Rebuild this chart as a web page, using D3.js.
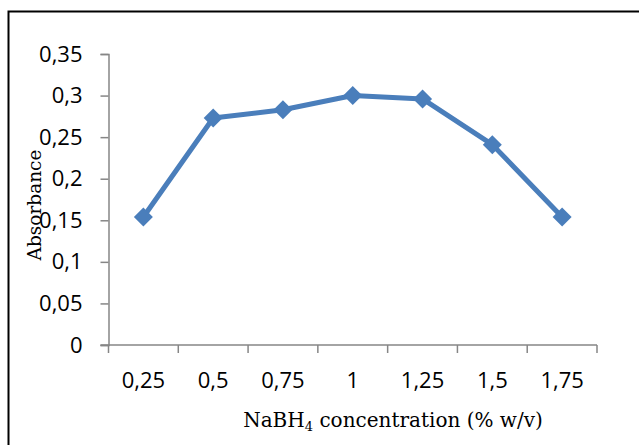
<!DOCTYPE html>
<html>
<head>
<meta charset="utf-8">
<script src="https://cdn.jsdelivr.net/npm/d3@7"></script>
<style>
  body { margin: 0; background: #fff; }
</style>
</head>
<body>
<div id="chart"></div>
<script>
const categories = ['0,25', '0,5', '0,75', '1', '1,25', '1,5', '1,75'];
const absorbance = [0.154, 0.273, 0.283, 0.300, 0.296, 0.241, 0.154];
const yTicks = [0, 0.05, 0.1, 0.15, 0.2, 0.25, 0.3, 0.35];

const width = 639;
const height = 445;
const plot = { left: 108.5, right: 597, top: 54, bottom: 345 };
const blue = '#4a7ebb';
const axisColor = '#868686';

const svg = d3.select('#chart')
  .append('svg')
  .attr('width', width)
  .attr('height', height);

// frame of the chart area (left and top edges only are visible)
svg.append('path')
  .attr('d', `M8.5,${height} V11.5 H${width}`)
  .attr('fill', 'none')
  .attr('stroke', '#000')
  .attr('stroke-width', 2);

const x = d3.scaleBand()
  .domain(categories)
  .range([plot.left, plot.right])
  .padding(0);

const y = d3.scaleLinear()
  .domain([0, 0.35])
  .range([plot.bottom, plot.top]);

// y axis
const yAxis = svg.append('g')
  .attr('transform', `translate(${plot.left}, 0)`)
  .call(d3.axisLeft(y)
    .tickValues(yTicks)
    .tickSize(8)
    .tickPadding(18)
    .tickFormat(d => String(d).replace('.', ',')));
yAxis.select('.domain').attr('stroke', axisColor).attr('stroke-width', 1.5);
yAxis.selectAll('.tick line').attr('stroke', axisColor).attr('stroke-width', 1.5);
yAxis.selectAll('text')
  .attr('font-family', '"Open Sans", sans-serif')
  .attr('font-size', 22)
  .attr('fill', '#000');

// x axis: labels centred in categories, ticks on category boundaries
const xAxis = svg.append('g')
  .attr('transform', `translate(0, ${plot.bottom})`)
  .call(d3.axisBottom(x).tickSize(0).tickPadding(27));
xAxis.select('.domain').remove();
xAxis.selectAll('text')
  .attr('font-family', '"Open Sans", sans-serif')
  .attr('font-size', 22)
  .attr('fill', '#000');

const bounds = categories.map(c => x(c)).concat([x.range()[1]]);
svg.append('line')
  .attr('x1', plot.left - 8).attr('x2', plot.right)
  .attr('y1', plot.bottom).attr('y2', plot.bottom)
  .attr('stroke', axisColor).attr('stroke-width', 1.5);
svg.selectAll('line.xtick')
  .data(bounds)
  .join('line')
  .attr('class', 'xtick')
  .attr('x1', d => d).attr('x2', d => d)
  .attr('y1', plot.bottom).attr('y2', plot.bottom + 8)
  .attr('stroke', axisColor).attr('stroke-width', 1.5);

// series
const data = categories.map((c, i) => ({ c, v: absorbance[i] }));
const cx = d => x(d.c) + x.bandwidth() / 2;

svg.append('path')
  .datum(data)
  .attr('fill', 'none')
  .attr('stroke', blue)
  .attr('stroke-width', 5)
  .attr('stroke-linejoin', 'round')
  .attr('d', d3.line().x(cx).y(d => y(d.v)));

const r = 9.5;
svg.selectAll('path.marker')
  .data(data)
  .join('path')
  .attr('class', 'marker')
  .attr('d', d => `M${cx(d)},${y(d.v) - r} L${cx(d) + r},${y(d.v)} L${cx(d)},${y(d.v) + r} L${cx(d) - r},${y(d.v)} Z`)
  .attr('fill', blue);

// axis titles
svg.append('text')
  .attr('transform', 'translate(41, 205) rotate(-90)')
  .attr('text-anchor', 'middle')
  .attr('font-family', '"DejaVu Serif", serif')
  .attr('font-size', 18.5)
  .text('Absorbance');

const xt = svg.append('text')
  .attr('x', 393)
  .attr('y', 427)
  .attr('text-anchor', 'middle')
  .attr('font-family', '"DejaVu Serif", serif')
  .attr('font-size', 20);
xt.append('tspan').text('NaBH');
xt.append('tspan').attr('font-size', 13).attr('dy', 4).text('4');
xt.append('tspan').attr('dy', -4).text(' concentration (% w/v)');
</script>
</body>
</html>
